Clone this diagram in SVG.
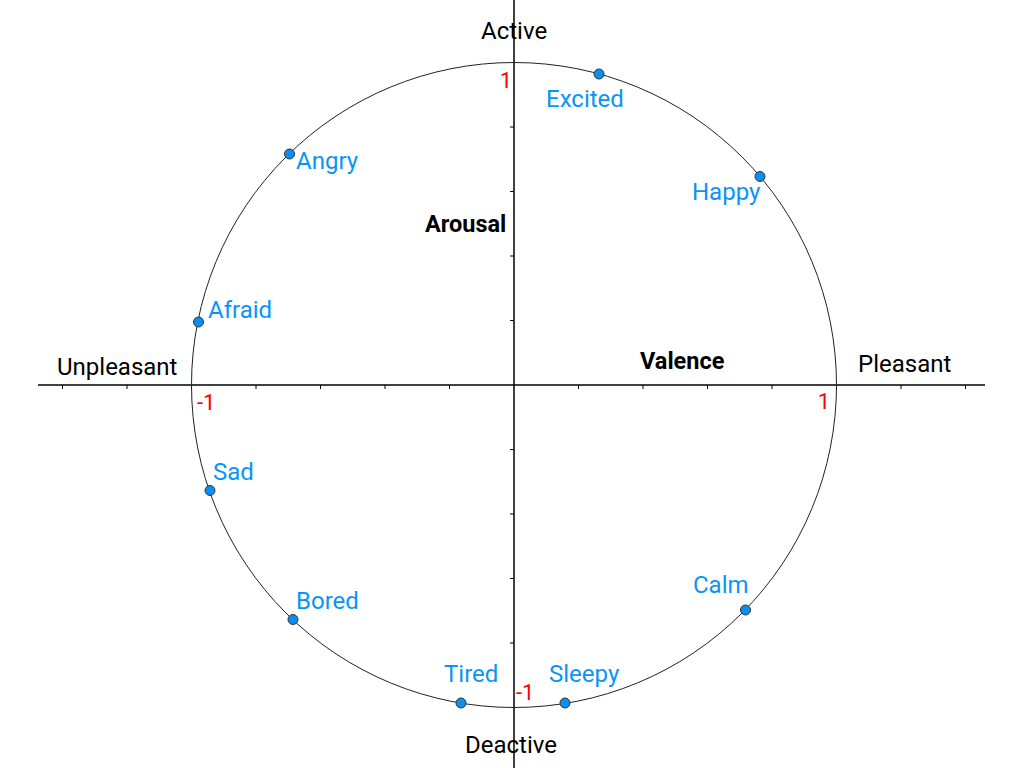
<svg xmlns="http://www.w3.org/2000/svg" width="1024" height="768" viewBox="0 0 1024 768">
<style>
.ax{stroke:#000;stroke-width:1.5;fill:none}
.tk{stroke:#000;stroke-width:1;fill:none}
.circ{stroke:#222;stroke-width:1;fill:none}
.dot{fill:#0a8ff0;stroke:#333;stroke-width:1}
.t{font-family:Roboto,"Liberation Sans",sans-serif;font-size:24px;fill:#000}
.b{font-family:Roboto,"Liberation Sans",sans-serif;font-size:23.5px;font-weight:bold;fill:#000}
.e{font-family:Roboto,"Liberation Sans",sans-serif;font-size:24px;fill:#0a95f5}
.n{font-family:Roboto,"Liberation Sans",sans-serif;font-size:22px;fill:#ff0000}
</style>
<rect width="1024" height="768" fill="#fff"/>
<g id="connectors">
<line class="ax" x1="38" y1="385" x2="985" y2="385"/>
<line class="ax" x1="514" y1="0" x2="514" y2="768"/>
<path class="tk" d="M62.5 385v4M127 385v4M191.5 385v4M256 385v4M320.5 385v4M385 385v4M449.5 385v4M578.5 385v4M643 385v4M707.5 385v4M772 385v4M836.5 385v4M901 385v4M965.5 385v4"/>
<path class="tk" d="M510 127h4M510 191.5h4M510 256h4M510 320.5h4M510 449.5h4M510 514h4M510 578.5h4M510 643h4"/>
<circle class="circ" cx="514" cy="385" r="322.5"/>
</g>
<g id="axis-labels">
<text class="t" x="481" y="39">Active</text>
<text class="t" x="465" y="753">Deactive</text>
<text class="t" x="57" y="375">Unpleasant</text>
<text class="t" x="858" y="372">Pleasant</text>
<text class="b" x="425" y="232">Arousal</text>
<text class="b" x="640" y="369">Valence</text>
<text class="n" x="512" y="88" text-anchor="end">1</text>
<text class="n" x="197" y="410">-1</text>
<text class="n" x="830" y="409" text-anchor="end">1</text>
<text class="n" x="516" y="700">-1</text>
</g>
<g id="excited"><circle class="dot" cx="599" cy="74" r="5"/><text class="e" x="546" y="107">Excited</text></g>
<g id="happy"><circle class="dot" cx="760" cy="176.5" r="5"/><text class="e" x="692" y="200">Happy</text></g>
<g id="angry"><circle class="dot" cx="289.5" cy="154" r="5"/><text class="e" x="296" y="169">Angry</text></g>
<g id="afraid"><circle class="dot" cx="198.5" cy="322" r="5"/><text class="e" x="208" y="318">Afraid</text></g>
<g id="sad"><circle class="dot" cx="210" cy="490.5" r="5"/><text class="e" x="213" y="480">Sad</text></g>
<g id="bored"><circle class="dot" cx="293" cy="619.5" r="5"/><text class="e" x="296" y="609">Bored</text></g>
<g id="tired"><circle class="dot" cx="461" cy="703" r="5"/><text class="e" x="444" y="682">Tired</text></g>
<g id="sleepy"><circle class="dot" cx="565" cy="703" r="5"/><text class="e" x="549" y="682">Sleepy</text></g>
<g id="calm"><circle class="dot" cx="745.5" cy="610" r="5"/><text class="e" x="693" y="593">Calm</text></g>
</svg>
